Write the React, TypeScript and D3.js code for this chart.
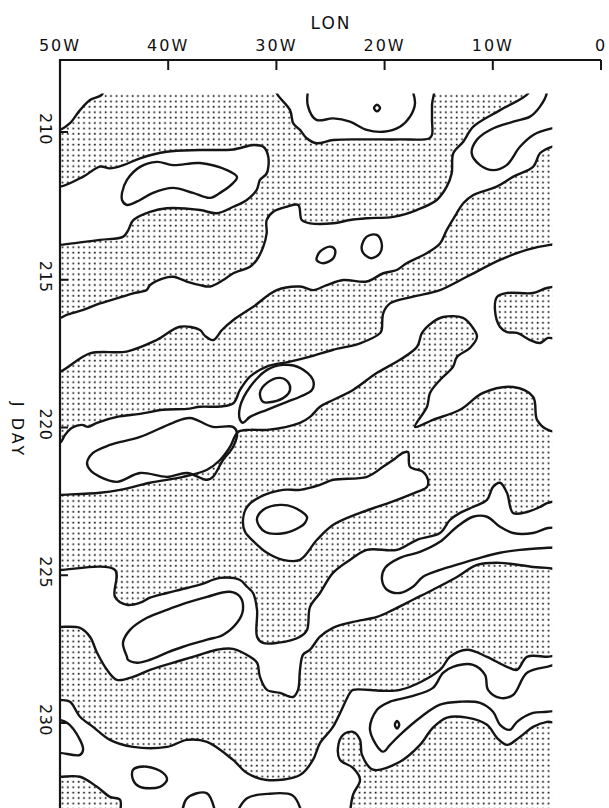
import React from 'react';
import * as d3 from 'd3';

type P = [number, number];

const lonTicks = [50, 40, 30, 20, 10, 0];
const lonLabels = ['50W', '40W', '30W', '20W', '10W', '0'];
const dayTicks = [210, 215, 220, 225, 230];
const dayLabels = ['210', '215', '220', '225', '230'];
const dataLon: P = [50, 4.5];
const dataDay: P = [208.7, 234];

// level-0 boundary lines
const lineA: P[] = [[6.4,208.3],[6.72,208.69],[9.33,209.26],[11.8,209.82],[12.73,210.33],[13.65,210.72],[13.8,211.4],[14.26,211.85],[15.18,212.3],[17.03,212.64],[19.2,212.87],[21.65,212.92],[23.2,212.98],[24.74,213.09],[26.89,213.09],[27.66,212.98],[27.98,212.47],[29.05,212.53],[30.29,212.7],[30.9,212.98],[30.9,213.43],[31.21,213.88],[31.82,214.33],[32.44,214.56],[33.98,214.78],[34.91,215.01],[36.14,215.23],[37.06,215.18],[38.29,215.06],[39.53,214.9],[40.45,214.95],[41.68,215.18],[41.99,215.35],[43.23,215.46],[44.76,215.63],[46.3,215.8],[47.85,216.02],[49.38,216.19],[50,216.3],[51,216.35]];
const lineC: P[] = [[3.8,210.45],[4.56,210.5],[5.64,210.72],[6.26,211.17],[8.1,211.51],[9.64,211.85],[11.8,212.13],[12.73,212.41],[13.34,212.75],[14.26,213.32],[14.88,213.77],[16.11,214.1],[17.96,214.44],[18.88,214.67],[20.12,214.78],[21.65,215.06],[23.82,215.01],[25.35,215.18],[26.59,215.35],[27.82,215.23],[29.97,215.35],[32.13,215.91],[33.98,216.36],[35.03,216.7],[35.83,217.04],[36.6,216.9],[37.06,216.7],[38.91,216.59],[41.06,217.04],[43.84,217.43],[47.23,217.49],[50,218.11],[51,218.15]];
const lineD: P[] = [[3.8,213.8],[4.71,213.82],[6.87,213.99],[9.33,214.33],[12.41,214.9],[14.88,215.35],[17.35,215.57],[19.5,215.8],[20.12,216.13],[20.27,216.7],[20.43,216.81],[22.27,217.15],[24.74,217.37],[26.89,217.6],[28.74,217.77],[30.9,217.94],[32.44,218.28],[33.36,218.73],[33.98,219.18],[35.21,219.29],[37.06,219.3],[38.26,219.37],[40.48,219.4],[42.61,219.54],[44.73,219.64],[46.58,219.84],[47.41,219.98],[47.97,219.91],[48.89,220.01],[49.54,220.25],[50,220.52],[51,220.55]];
const s4Top: P[] = [[50,222.28],[46.3,222.21],[44.45,222.11],[41.68,221.87],[38.63,221.67],[36.41,221.43],[35.21,221.1],[34.29,220.66],[33.55,220.15],[32.44,220.08],[30.87,220.08],[27.82,219.84],[26.89,219.64],[25.97,219.3],[24.77,219.07],[22.92,218.73],[20.7,218.15],[18.58,217.71],[17.0,217.27],[16.54,216.8],[15.53,216.43],[14.6,216.26],[12.75,216.29],[11.83,216.63],[11.46,216.93],[12.11,217.31],[13.31,217.61],[13.68,217.95],[14.88,218.39],[15.8,218.83],[16.08,219.3],[17.19,219.98],[15.53,219.74],[13.03,219.4],[10.9,218.83],[8.13,218.63],[6.28,218.96],[5.91,219.74],[4.9,220.08]];
const w6Top: P[] = [[50,224.82],[44.92,224.82],[44.92,225.73],[43.81,226.0],[42.6,225.93],[41.68,225.76],[40.11,225.6],[38.91,225.49],[37.06,225.32],[35.21,225.09],[33.36,225.16],[32.72,225.39],[32.16,225.6],[31.79,226.17],[31.79,227.08],[31.24,227.29],[29.94,227.29],[27.82,227.08],[27.17,226.85],[26.89,226.07],[25.97,225.6],[24.77,224.92],[23.2,224.48],[21.63,224.14],[18.85,224.14],[17.0,223.8],[14.88,223.57],[13.96,223.13],[13.03,222.89],[11.83,222.69],[10.54,222.45],[9.98,222.01],[9.33,221.87],[8.69,222.21],[8.13,222.89],[6.84,222.86],[5.64,222.69],[4.9,222.55]];
const w6Bottom: P[] = [[4.99,224.75],[6.28,224.72],[9.33,224.58],[11.46,224.65],[13.31,225.06],[15.53,225.49],[17.38,225.83],[19.22,226.17],[20.7,226.41],[22.92,226.58],[24.77,226.78],[25.97,227.08],[26.89,227.52],[27.54,227.69],[27.82,228.2],[28.0,228.88],[28.47,229.12],[29.67,228.98],[30.87,228.88],[31.52,228.44],[31.79,227.96],[32.44,227.76],[34.01,227.49],[35.49,227.52],[37.06,227.69],[38.63,227.86],[41.68,228.2],[43.25,228.44],[44.73,228.54],[45.66,228.2],[46.58,227.62],[47.23,227.08],[48.15,226.78],[50,226.75]];
const lineX: P[] = [[50,229.22],[49.08,229.28],[48.15,229.79],[46.95,230.13],[45.38,230.57],[43.25,230.81],[40.11,230.81],[38.26,230.57],[36.41,230.64],[34.01,231.25],[32.72,231.69],[30.87,231.93],[27.82,231.76],[26.62,231.25],[25.97,230.68],[24.77,230.13],[23.2,228.98],[22.92,228.88],[18.58,228.88],[14.88,228.2],[13.96,227.76],[12.38,227.52],[10.54,227.76],[8.69,228.1],[7.76,228.2],[6.84,227.76],[4.99,227.76]];
const lineZ: P[] = [[4.99,229.96],[6.28,230.13],[7.49,230.47],[8.69,230.74],[9.61,230.5],[10.54,230.06],[12.38,229.82],[14.23,229.82],[15.53,230.16],[16.73,230.74],[18.58,231.31],[21.07,231.58],[22.09,231.08],[22.27,230.57],[22.92,230.3],[23.84,230.4],[24.31,230.84],[24.12,231.25],[22.92,231.52],[22.27,231.92],[22.92,232.43],[23.2,233.1]];
const lineY: P[] = [[44.45,233.1],[44.45,232.6],[45.38,232.5],[46.58,232.16],[48.15,231.82],[50,231.82]];

// white (unstippled) areas
const wTopLeft: P[] = [[51,208.3],[45.9,208.3],[46.1,208.72],[47.23,208.92],[48.15,209.26],[49.08,209.7],[50,209.93],[51,210.0]];
const wTopMid: P[] = [[30.2,208.3],[29.97,208.69],[28.74,209.26],[28.44,209.71],[27.82,209.93],[27.2,210.21],[26.28,210.38],[24.74,210.27],[21.65,210.25],[18.58,210.25],[15.9,210.22],[15.62,210.1],[15.62,209.6],[15.62,209.1],[15.62,208.3]];
const w1: P[] = [[51,211.8],[50,211.85],[47.85,211.51],[46.3,211.17],[45.38,211.23],[44.15,211.12],[42.6,210.89],[40.14,210.67],[37.06,210.61],[33.98,210.59],[32.13,210.44],[31.21,210.5],[30.75,210.84],[30.9,211.4],[31.52,211.62],[31.82,211.96],[32.74,212.3],[33.98,212.53],[35.52,212.75],[37.06,212.64],[40.14,212.58],[41.68,212.7],[43.23,212.98],[43.69,213.32],[44.15,213.54],[46.3,213.65],[50,213.82],[51,213.85]];
const w5: P[] = [[33.09,223.13],[32.72,222.69],[31.52,222.35],[29.39,222.11],[27.82,222.11],[25.97,221.94],[24.77,221.77],[21.63,221.67],[20.15,221.33],[19.22,221.1],[18.3,220.86],[17.84,220.83],[17.65,221.33],[16.45,221.5],[15.99,221.77],[16.08,222.01],[17.0,222.18],[18.85,222.45],[20.7,222.69],[22.27,222.89],[24.77,223.3],[26.25,223.8],[27.82,224.48],[29.39,224.48],[30.87,224.24],[31.98,223.9],[32.9,223.53]];
const w2: P[] = [...lineA, ...[...lineC].reverse(), [3.8, 208.3]];
const w4: P[] = [...lineD, [51, 222.3], ...s4Top, [3.8, 220.1]];
const w6: P[] = [[51, 224.82], ...w6Top, [3.8, 222.55], [3.8, 224.75], ...w6Bottom, [51, 226.75]];
const w8: P[] = [[51, 229.2], ...lineX, [3.8, 227.76], [3.8, 229.96], ...lineZ, [23.2, 234.5], [44.4, 234.5], ...lineY, [51, 231.82]];

// stippled islands inside white areas
const s5: P[] = [[3.8,215.28],[4.99,215.28],[6.28,215.45],[8.69,215.45],[9.61,215.58],[9.8,216.02],[9.33,216.6],[8.69,216.77],[7.76,216.8],[6.56,217.04],[5.64,217.14],[4.9,216.97],[3.8,216.97]];

// higher contour levels (closed loops)
const l1: P[] = [[44.27,212.06],[43.81,211.62],[42.6,211.18],[41.04,211.01],[39.56,211.12],[37.06,211.05],[34.57,211.29],[33.64,211.52],[34.01,211.73],[35.21,212.06],[36.14,212.23],[37.71,212.06],[39.56,211.89],[41.4,212.06],[42.6,212.3],[43.81,212.47],[44.27,212.3]];
const dotTop: P[] = [[20.98,209.19],[20.7,209.08],[20.42,209.19],[20.7,209.3]];
const loopE1: P[] = [[26.28,214.33],[25.97,214.05],[25.05,213.88],[24.58,213.99],[24.74,214.27],[25.67,214.44]];
const loopE2: P[] = [[22.12,213.88],[21.65,213.54],[20.73,213.48],[20.27,213.77],[20.43,214.1],[21.2,214.27],[21.97,214.1]];
const l3: P[] = [[47.5,221.2],[46.95,220.86],[45.38,220.59],[42.6,220.32],[39.56,219.84],[37.99,219.68],[35.86,219.98],[34.01,219.98],[33.64,220.18],[34.01,220.66],[34.94,221.1],[35.86,221.67],[36.41,221.77],[38.26,221.54],[40.11,221.67],[42.6,221.54],[44.73,221.84],[46.3,221.67],[47.23,221.43]];
const ringMid: P[] = [[33.36,219.74],[33.36,219.3],[32.44,218.63],[30.87,218.05],[29.39,217.88],[27.82,217.98],[26.62,218.39],[26.71,218.73],[27.82,218.96],[29.02,219.13],[30.87,219.4],[32.44,219.64],[33.09,219.84]];
const ringIn: P[] = [[31.52,218.83],[30.87,218.49],[29.67,218.32],[28.93,218.46],[28.74,218.73],[29.2,218.96],[30.31,219.13],[31.24,219.13]];
const w5In: P[] = [[31.8,223.13],[31.24,222.79],[29.67,222.62],[28.47,222.69],[27.17,223.03],[27.36,223.23],[27.82,223.37],[29.2,223.57],[31.05,223.53]];
const l6: P[] = [[43.81,227.76],[44.18,227.29],[43.53,226.85],[41.96,226.44],[40.11,226.17],[38.26,225.93],[36.41,225.73],[34.29,225.56],[33.36,225.73],[33.09,226.17],[33.64,226.61],[34.94,227.02],[36.41,227.18],[38.63,227.42],[40.11,227.62],[41.68,227.86],[42.88,227.96],[43.72,227.86]];
const smallLoop8: P[] = [[43.25,231.58],[41.96,231.48],[40.48,231.69],[40.11,231.92],[40.76,232.16],[42.61,232.16],[43.25,231.92]];
const dot8: P[] = [[19.05,230.06],[18.85,229.93],[18.65,230.06],[18.85,230.19]];
const tadpole: P[] = [[20.15,230.97],[21.35,230.23],[20.7,229.55],[19.5,229.28],[17.65,229.11],[15.53,228.81],[14.6,228.3],[13.68,228.1],[11.83,228.03],[10.72,228.37],[10.44,228.88],[9.33,229.15],[8.13,229.05],[6.84,228.3],[4.99,228.1],[3.8,228.05],[3.8,229.5],[4.99,229.62],[6.28,229.66],[7.76,229.96],[8.41,230.23],[9.33,230.06],[9.98,229.62],[11.18,229.32],[13.03,229.28],[14.88,229.38],[16.73,229.82],[18.58,230.4],[19.5,230.74]];

// higher contour levels (open lines meeting the data edge)
const uTop: P[] = [[27.0,208.4],[27.1,209.1],[26.3,209.59],[24.74,209.54],[23.2,209.65],[21.65,209.93],[20.12,209.99],[18.58,209.82],[17.65,209.48],[17.19,209.03],[17.6,208.4]];
const lineB: P[] = [[5.2,208.3],[5.02,208.69],[5.64,209.14],[6.56,209.48],[8.1,209.65],[10.26,209.93],[11.49,210.27],[11.95,210.72],[11.18,211.12],[9.95,211.29],[8.72,211.12],[7.49,210.5],[6.26,210.1],[4.56,209.88],[3.8,209.85]];
const finger7: P[] = [[3.8,223.4],[4.9,223.4],[6.28,223.57],[8.13,223.57],[9.33,223.36],[10.54,223.02],[11.83,223.02],[13.31,223.36],[14.88,223.87],[16.73,224.21],[18.58,224.41],[19.96,224.75],[20.24,225.16],[19.78,225.49],[18.58,225.6],[17.38,225.39],[16.45,225.05],[14.88,224.82],[12.75,224.58],[11.18,224.41],[9.33,224.24],[7.49,224.14],[4.9,224.07],[3.8,224.05]];
const tri8: P[] = [[51,229.85],[49.35,229.99],[48.15,230.57],[47.87,230.91],[48.15,231.08],[50,231.01],[51,231.0]];
const bumpB1: P[] = [[38.8,233.3],[38.26,232.55],[36.41,232.38],[35.49,233.3]];
const bumpB2: P[] = [[34.0,233.3],[32.72,232.55],[30.87,232.4],[28.5,232.45],[27.7,233.0]];

const whiteAreas = [wTopLeft, wTopMid, w1, w2, w4, w5, w6, w8];
const stippleAreas = [s5];
const closedLoops = [l1, dotTop, loopE1, loopE2, l3, ringMid, ringIn, w5In, l6, smallLoop8, dot8, tadpole];
const openLines = [uTop, lineB, finger7, tri8, bumpB1, bumpB2];

export default function App() {
  const W = 609, H = 808;
  const x = d3.scaleLinear().domain([50, 0]).range([60, 601]);
  const y = d3.scaleLinear().domain([210, 230]).range([132, 723]);
  const closed = d3.line<P>().x(d => x(d[0])).y(d => y(d[1])).curve(d3.curveCatmullRomClosed.alpha(0.5));
  const open = d3.line<P>().x(d => x(d[0])).y(d => y(d[1])).curve(d3.curveCatmullRom.alpha(0.5));
  const x0 = x(dataLon[0]), x1 = x(dataLon[1]);
  const y0 = y(dataDay[0]), y1 = y(dataDay[1]);
  const font = "'DejaVu Sans', 'Liberation Sans', sans-serif";
  const stroke = '#151515';
  const sw = 2.4;
  return (
    <svg width={W} height={H} style={{ position: 'absolute', left: 0, top: 0, background: '#fff' }}>
      <defs>
        <pattern id="stip" patternUnits="userSpaceOnUse" x={x0} y={y0} width={5.4} height={5.4}>
          <rect x={1.6} y={1.6} width={1.7} height={1.7} fill="#111" />
        </pattern>
        <clipPath id="dclip">
          <rect x={x0} y={y0} width={x1 - x0} height={y1 - y0} />
        </clipPath>
      </defs>
      <g clipPath="url(#dclip)">
        <rect x={x0} y={y0} width={x1 - x0} height={y1 - y0} fill="url(#stip)" />
        {whiteAreas.map((a, i) => <path key={'w' + i} d={closed(a) || ''} fill="#fff" />)}
        {stippleAreas.map((a, i) => <path key={'s' + i} d={closed(a) || ''} fill="url(#stip)" />)}
        {[...whiteAreas, ...stippleAreas].map((a, i) => (
          <path key={'wl' + i} d={closed(a) || ''} fill="none" stroke={stroke} strokeWidth={sw} strokeLinejoin="round" />
        ))}
        {closedLoops.map((a, i) => (
          <path key={'c' + i} d={closed(a) || ''} fill="none" stroke={stroke} strokeWidth={sw} strokeLinejoin="round" />
        ))}
        {openLines.map((a, i) => (
          <path key={'o' + i} d={open(a) || ''} fill="none" stroke={stroke} strokeWidth={sw} strokeLinejoin="round" />
        ))}
      </g>
      <line x1={x(50)} x2={x(0)} y1={60} y2={60} stroke={stroke} strokeWidth={2.2} />
      <line x1={x(50)} x2={x(50)} y1={59} y2={H} stroke={stroke} strokeWidth={2.2} />
      {lonTicks.slice(1).map(t => (
        <line key={'xt' + t} x1={x(t)} x2={x(t)} y1={60} y2={70} stroke={stroke} strokeWidth={2} />
      ))}
      {lonTicks.map((t, i) => (
        <text key={'xl' + t} x={x(t)} y={51} textAnchor="middle" fontFamily={font} fontSize={16} letterSpacing={2} fill="#111">{lonLabels[i]}</text>
      ))}
      <text x={331} y={29} textAnchor="middle" fontFamily={font} fontSize={17} letterSpacing={2} fill="#111">LON</text>
      {dayTicks.map((t, i) => (
        <g key={'yt' + t}>
          <line x1={x(50)} x2={x(50) + 8} y1={y(t)} y2={y(t)} stroke={stroke} strokeWidth={2} />
          <text transform={`translate(${45},${y(t) - 3}) rotate(90)`} textAnchor="middle" dominantBaseline="central" fontFamily={font} fontSize={16} letterSpacing={0.5} fill="#111">{dayLabels[i]}</text>
        </g>
      ))}
      <text transform={`translate(${17},${430}) rotate(90)`} textAnchor="middle" dominantBaseline="central" fontFamily={font} fontSize={16} letterSpacing={3} fill="#111">J DAY</text>
    </svg>
  );
}
